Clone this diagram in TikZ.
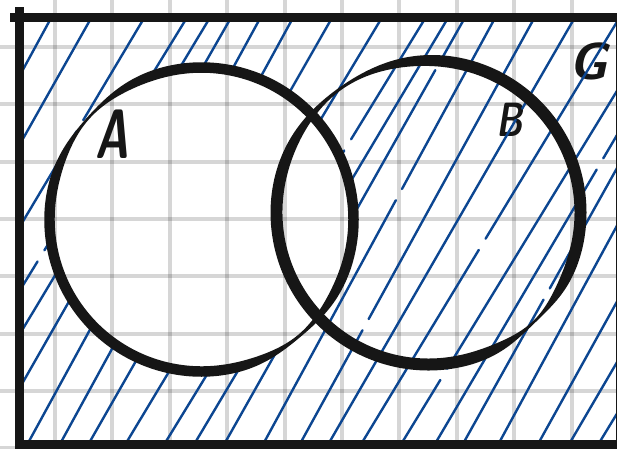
\documentclass[tikz,border=0pt]{standalone}
\definecolor{ink}{RGB}{22,22,22}
\definecolor{hatchblue}{RGB}{12,70,145}
\begin{document}
\begin{tikzpicture}[x=1pt,y=-1pt,
  gridline/.style={black,opacity=0.16,line width=4},
  hatchline/.style={hatchblue,line width=2.4,line cap=round},
  frameline/.style={ink,line width=9},
  lab/.style={ink,inner sep=0pt},
  declare function={
    wA(\t)=10.5-7.5*exp(-min(((\t-50)/16)*((\t-50)/16),12))-8*exp(-min(((\t-222)/18)*((\t-222)/18),12));
    wB(\t)=12-9.5*exp(-min(((\t-46)/15)*((\t-46)/15),12))-9*exp(-min(((\t-235)/24)*((\t-235)/24),12));
  }]
\useasboundingbox (0,0) rectangle (617,448);
\fill[white] (0,0) rectangle (617,448);
% grid paper
\foreach \k in {0,...,9} \draw[gridline] ({55+57.4*\k},0) -- ({55+57.4*\k},448);
\foreach \k in {0,...,7} \draw[gridline] (0,{47+57.3*\k}) -- (617,{47+57.3*\k});
% labels under the hatching
\node[lab,xscale=0.75,font=\fontsize{48}{48}\selectfont\sffamily\bfseries\slshape] (B) at (510,120) {B};
\node[lab,font=\fontsize{52}{52}\selectfont\sffamily\bfseries\slshape] (G) at (589,61) {G};
% hatching: everything except inside A
\begin{scope}[even odd rule]
\clip (19.5,17.5) rectangle (617,444) (201.5,219.5) circle[radius=152];
\foreach \i in {0,...,27}{
  \pgfmathsetmacro\xb{-250+34*\i+4*sin(\i*97)}
  \pgfmathsetmacro\dx{448/tan(60+1.5*sin(\i*53))}
  \pgfmathsetmacro\ga{0.12+0.76*frac(\i*0.618+0.3)}
  \pgfmathsetmacro\gb{\ga+0.025}
  \draw[hatchline] (\xb,448) -- ({\xb+\ga*\dx},{448*(1-\ga)});
  \draw[hatchline] ({\xb+\gb*\dx},{448*(1-\gb)}) -- ({\xb+\dx},0);
}
\end{scope}
% frame
\draw[frameline] (19.5,7) -- (19.5,449);
\draw[frameline] (10,17.5) -- (625,17.5);
\draw[frameline] (15,444.5) -- (625,444.5);
\draw[frameline] (620,17.5) -- (620,449);
% circles with brush-like varying thickness
\fill[ink,even odd rule]
  plot[domain=0:360,samples=181,smooth] ({201.5+(152+wA(\x)/2)*cos(\x)},{219.5+(152+wA(\x)/2)*sin(\x)}) -- cycle
  plot[domain=0:360,samples=181,smooth] ({201.5+(152-wA(\x)/2)*cos(\x)},{219.5+(152-wA(\x)/2)*sin(\x)}) -- cycle;
\fill[ink,even odd rule]
  plot[domain=0:360,samples=181,smooth] ({428.5+(152+wB(\x)/2)*cos(\x)},{212.5+(152+wB(\x)/2)*sin(\x)}) -- cycle
  plot[domain=0:360,samples=181,smooth] ({428.5+(152-wB(\x)/2)*cos(\x)},{212.5+(152-wB(\x)/2)*sin(\x)}) -- cycle;
% label A
\node[lab,xscale=0.65,font=\fontsize{70}{70}\selectfont\sffamily\bfseries\slshape] (A) at (112,134) {A};
\end{tikzpicture}
\end{document}
